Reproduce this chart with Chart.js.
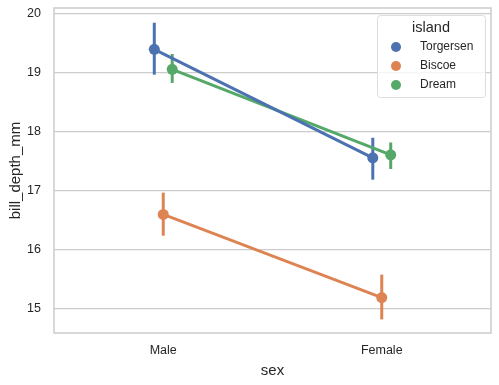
<!DOCTYPE html>
<html lang="en">
  <head>
    <meta charset="UTF-8">
    <title>bill_depth_mm by sex and island</title>
    <script src="https://cdn.jsdelivr.net/npm/chart.js@4.4.0/dist/chart.umd.min.js"></script>
    <style>
      body { margin: 0; background: #fff; }
    </style>
  </head>
  <body>
    <canvas id="chart" width="499" height="385"></canvas>
    <script>
    const sexes = ['Male', 'Female'];
    const islands = ['Torgersen', 'Biscoe', 'Dream'];
    const colors = ['#4c72b0', '#dd8452', '#55a868'];
    // mean bill depth per island, [Male, Female]
    const means = [
      [19.40, 17.56],
      [16.60, 15.19],
      [19.06, 17.61]
    ];
    const ciLow = [
      [18.97, 17.19],
      [16.24, 14.82],
      [18.83, 17.37]
    ];
    const ciHigh = [
      [19.85, 17.90],
      [16.97, 15.58],
      [19.32, 17.82]
    ];
    const yTicks = [15, 16, 17, 18, 19, 20];
    const dodge = [-0.041, 0, 0.041];

    const font = "'Liberation Sans', Arial, sans-serif";
    const text = '#262626';

    const datasets = islands.map((name, i) => ({
      label: name,
      data: sexes.map((s, j) => ({ x: j + dodge[i], y: means[i][j] })),
      borderColor: colors[i],
      backgroundColor: colors[i],
      borderWidth: 3,
      pointRadius: 5.5,
      pointHoverRadius: 5.5,
      pointBorderWidth: 0
    }));

    // confidence interval bars, drawn with the chart's own scales
    const errorBars = {
      id: 'errorBars',
      beforeDatasetsDraw(chart) {
        const ctx = chart.ctx;
        const xs = chart.scales.x, ys = chart.scales.y;
        ctx.save();
        ctx.lineWidth = 3;
        islands.forEach((n, i) => {
          ctx.strokeStyle = colors[i];
          sexes.forEach((s, j) => {
            const px = xs.getPixelForValue(j + dodge[i]);
            ctx.beginPath();
            ctx.moveTo(px, ys.getPixelForValue(ciLow[i][j]));
            ctx.lineTo(px, ys.getPixelForValue(ciHigh[i][j]));
            ctx.stroke();
          });
        });
        ctx.restore();
      }
    };

    const frame = {
      id: 'frame',
      afterDatasetsDraw(chart) {
        const { ctx, chartArea: a } = chart;
        ctx.save();
        ctx.strokeStyle = '#cccccc';
        ctx.lineWidth = 1.5;
        ctx.strokeRect(a.left, a.top, a.right - a.left, a.bottom - a.top);

        // legend box
        const bx = 377, by = 15, bw = 108, bh = 82;
        ctx.fillStyle = 'rgba(255,255,255,0.8)';
        ctx.strokeStyle = '#dddddd';
        ctx.lineWidth = 1;
        ctx.beginPath();
        ctx.roundRect(bx + 0.5, by + 0.5, bw, bh, 3);
        ctx.fill();
        ctx.stroke();
        ctx.fillStyle = text;
        ctx.font = '14.5px ' + font;
        ctx.textAlign = 'center';
        ctx.textBaseline = 'middle';
        ctx.fillText('island', bx + bw / 2, by + 13);
        ctx.font = '12px ' + font;
        ctx.textAlign = 'left';
        islands.forEach((n, i) => {
          const y = by + 32 + i * 19;
          ctx.fillStyle = colors[i];
          ctx.beginPath();
          ctx.arc(bx + 19, y, 5, 0, Math.PI * 2);
          ctx.fill();
          ctx.fillStyle = text;
          ctx.fillText(n, bx + 43, y);
        });
        ctx.restore();
      }
    };

    new Chart(document.getElementById('chart'), {
      type: 'line',
      data: { datasets },
      options: {
        responsive: false,
        animation: false,
        layout: { padding: { top: 8, right: 8, left: 0, bottom: 0 } },
        plugins: { legend: { display: false }, tooltip: { enabled: false } },
        scales: {
          x: {
            type: 'linear',
            min: -0.5,
            max: 1.5,
            afterBuildTicks: s => { s.ticks = sexes.map((c, j) => ({ value: j })); },
            afterFit: s => { s.height = 52; s.paddingLeft = 0; s.paddingRight = 0; },
            ticks: {
              callback: v => sexes[v],
              color: text,
              font: { family: font, size: 12.5 },
              padding: 10
            },
            grid: { display: false, drawTicks: false },
            border: { display: false },
            title: {
              display: true,
              text: 'sex',
              color: text,
              font: { family: font, size: 15 },
              padding: { top: 0, bottom: 5 }
            }
          },
          y: {
            min: 14.59,
            max: 20.1,
            afterBuildTicks: s => { s.ticks = yTicks.map(v => ({ value: v })); },
            afterFit: s => { s.width = 54; s.paddingTop = 0; s.paddingBottom = 0; },
            ticks: {
              color: text,
              font: { family: font, size: 12.5 },
              padding: 13
            },
            grid: { color: '#cccccc', lineWidth: 1.2, drawTicks: false },
            border: { display: false },
            title: {
              display: true,
              text: 'bill_depth_mm',
              color: text,
              font: { family: font, size: 15 },
              padding: { top: 7, bottom: 2 }
            }
          }
        }
      },
      plugins: [errorBars, frame]
    });
    </script>
  </body>
</html>
